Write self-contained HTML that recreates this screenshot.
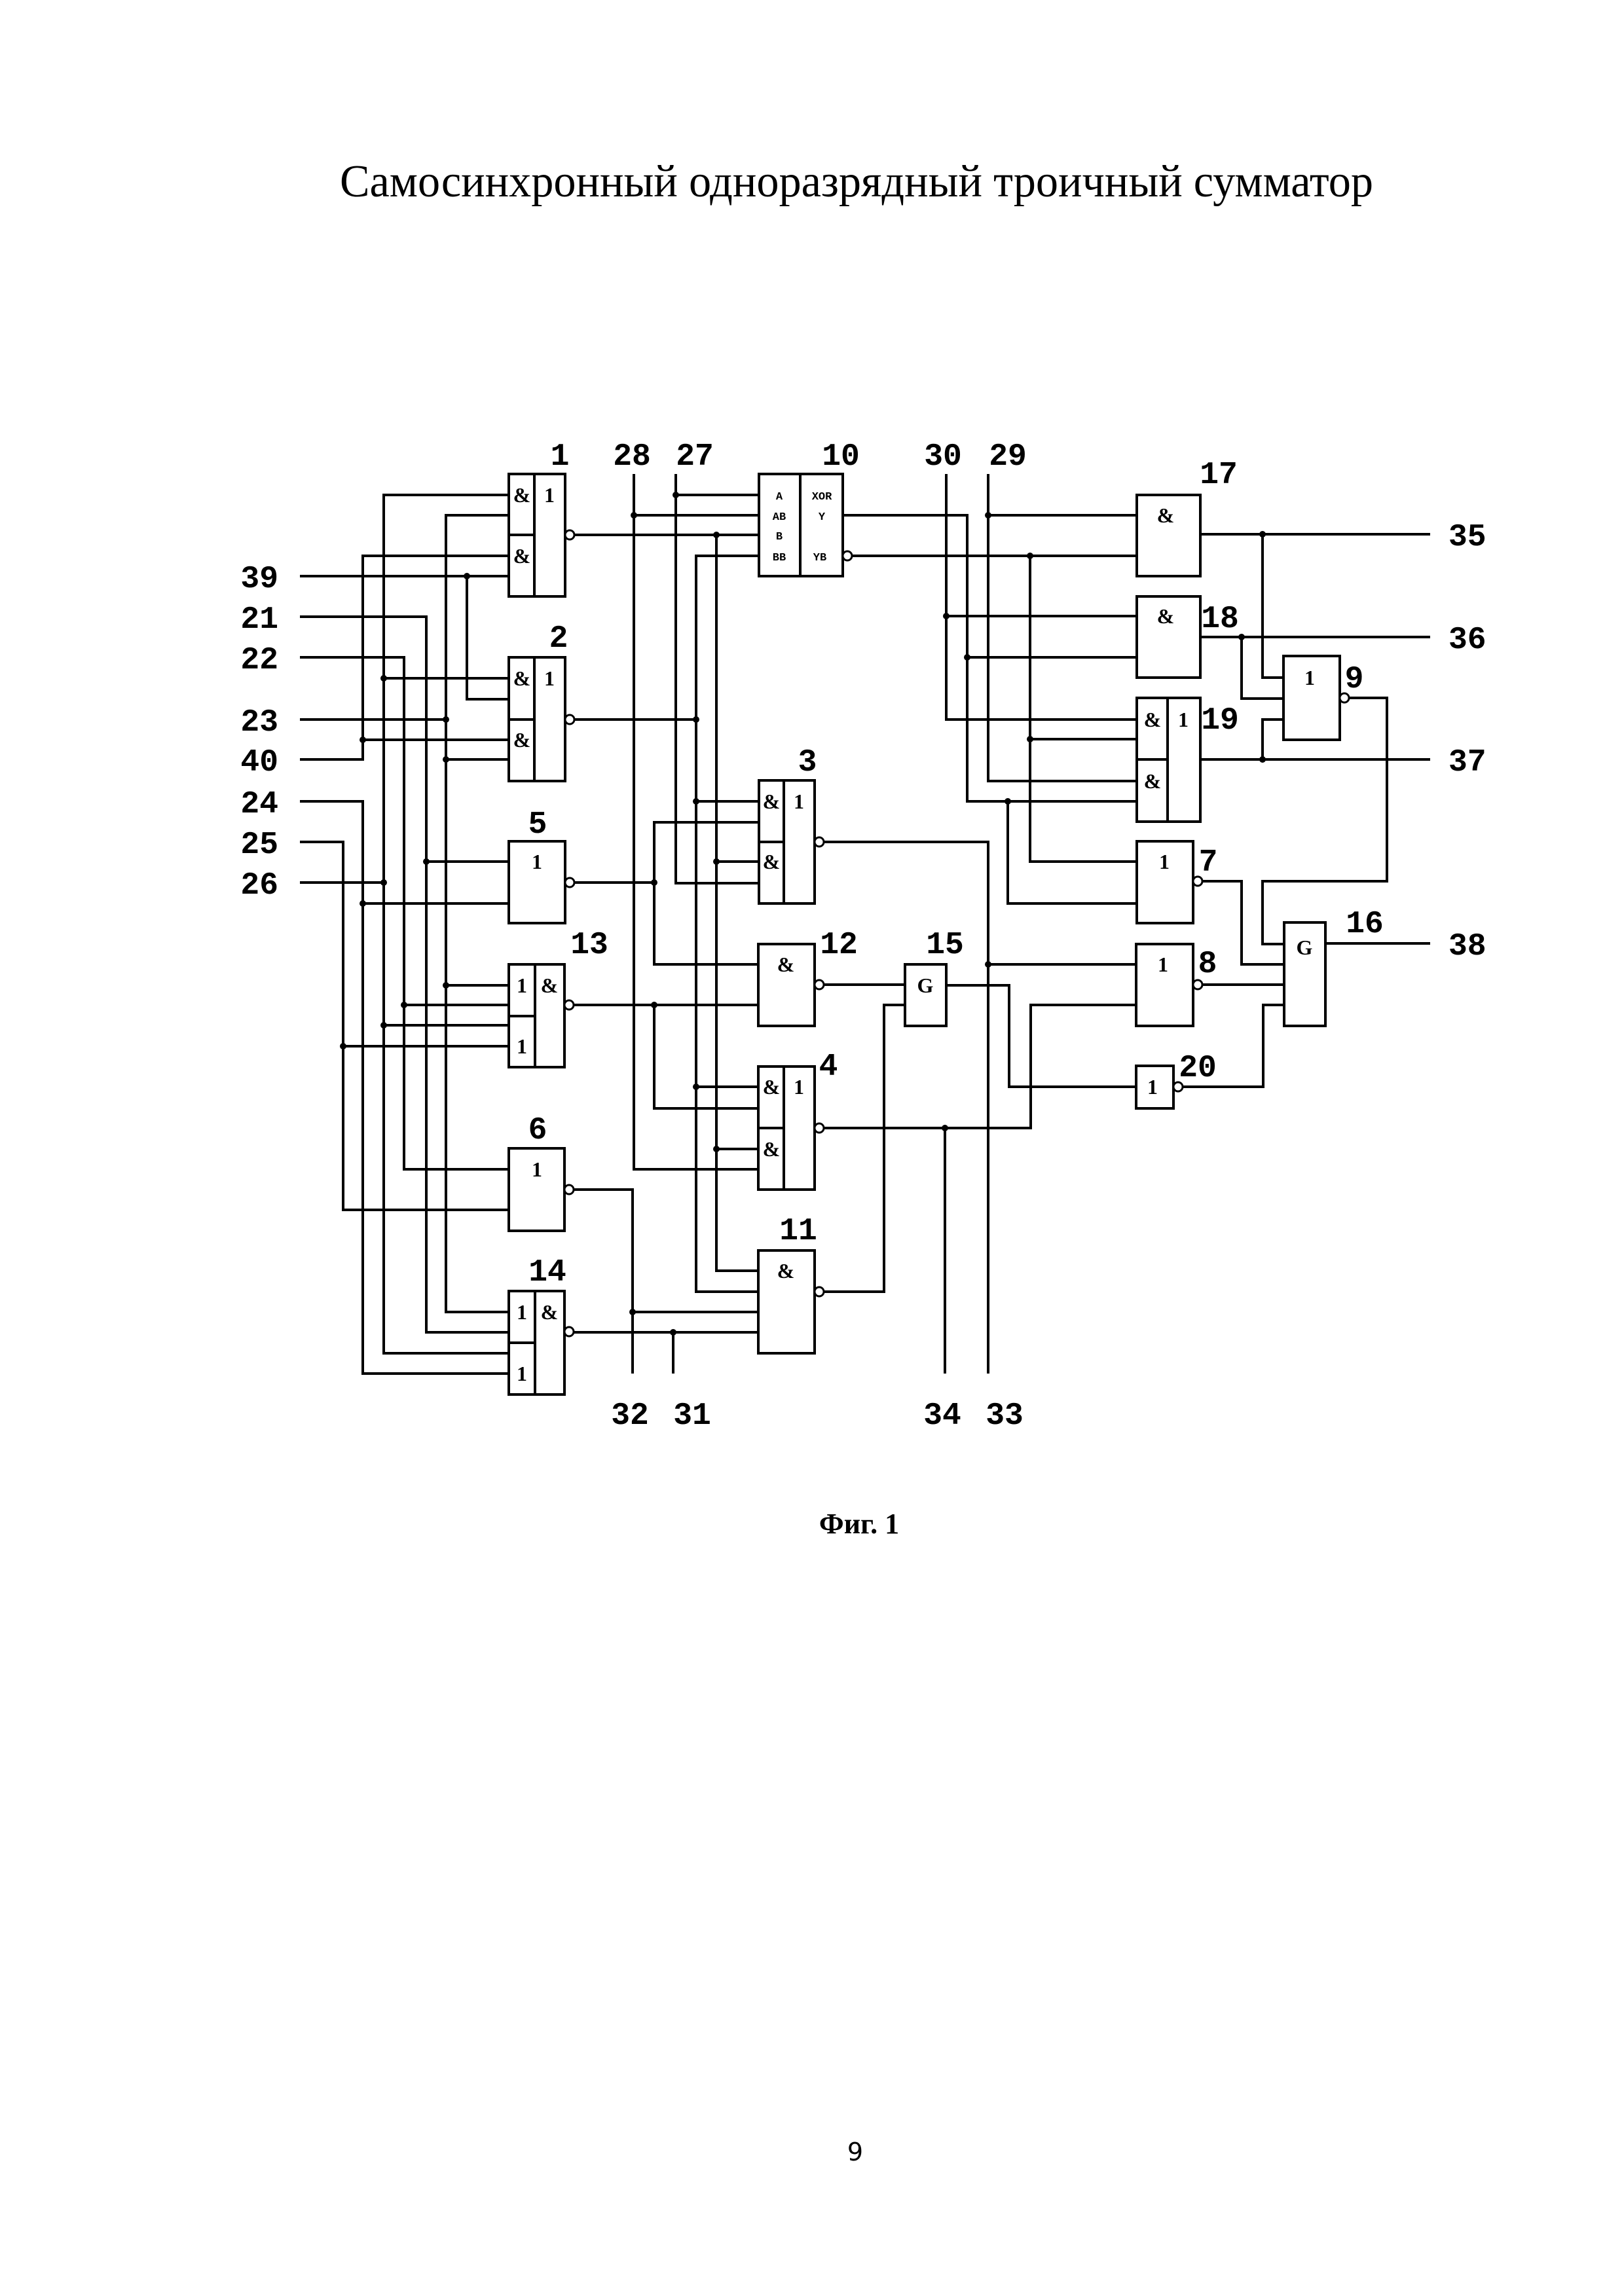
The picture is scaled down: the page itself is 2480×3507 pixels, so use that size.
<!DOCTYPE html>
<html><head><meta charset="utf-8"><style>
html,body{margin:0;padding:0;background:#fff}
svg{display:block}
.w{fill:none;stroke:#000;stroke-width:4;stroke-linejoin:miter}
.b{fill:#fff;stroke:#000;stroke-width:4}
.l{font-family:"Liberation Mono",monospace;font-weight:bold;font-size:48px}
.g{font-family:"Liberation Serif",serif;font-weight:bold;font-size:32px}
.s{font-family:"Liberation Mono",monospace;font-weight:bold;font-size:17px}
</style></head><body>
<svg width="2480" height="3507" viewBox="0 0 2480 3507" xmlns="http://www.w3.org/2000/svg">
<text x="1308" y="300" text-anchor="middle" font-family="Liberation Serif, serif" font-size="70" textLength="1578" lengthAdjust="spacingAndGlyphs">Самосинхронный одноразрядный троичный сумматор</text>

<g class="w">
<polyline points="458,880 777,880"/>
<polyline points="713,880 713,1068 777,1068"/>
<polyline points="458,942 651,942 651,2035 777,2035"/>
<polyline points="651,1316 777,1316"/>
<polyline points="458,1004 617,1004 617,1786 777,1786"/>
<polyline points="617,1535 777,1535"/>
<polyline points="458,1099 681,1099"/>
<polyline points="777,787 681,787 681,2004 777,2004"/>
<polyline points="681,1160 777,1160"/>
<polyline points="681,1505 777,1505"/>
<polyline points="458,1160 554,1160 554,849 777,849"/>
<polyline points="554,1130 777,1130"/>
<polyline points="458,1224 554,1224 554,2098 777,2098"/>
<polyline points="554,1380 777,1380"/>
<polyline points="458,1286 524,1286 524,1848 777,1848"/>
<polyline points="524,1598 777,1598"/>
<polyline points="458,1348 586,1348"/>
<polyline points="777,756 586,756 586,2067 777,2067"/>
<polyline points="586,1036 777,1036"/>
<polyline points="586,1566 777,1566"/>

<polyline points="877,817 1159,817"/>
<polyline points="1094,817 1094,1941 1158,1941"/>
<polyline points="1094,1316 1159,1316"/>
<polyline points="1094,1755 1158,1755"/>
<polyline points="877,1099 1063,1099"/>
<polyline points="1159,849 1063,849 1063,1973 1158,1973"/>
<polyline points="1063,1224 1159,1224"/>
<polyline points="1063,1660 1158,1660"/>
<polyline points="877,1348 999,1348"/>
<polyline points="1159,1256 999,1256 999,1473 1158,1473"/>
<polyline points="876,1535 1158,1535"/>
<polyline points="999,1535 999,1693 1158,1693"/>
<polyline points="876,1817 966,1817 966,2098"/>
<polyline points="966,2004 1158,2004"/>
<polyline points="876,2035 1158,2035"/>
<polyline points="1028,2035 1028,2098"/>
<polyline points="968,724 968,1786 1158,1786"/>
<polyline points="968,787 1159,787"/>
<polyline points="1032,724 1032,1349 1159,1349"/>
<polyline points="1032,756 1159,756"/>

<polyline points="1258,1286 1509,1286 1509,2098"/>
<polyline points="1509,1473 1735,1473"/>
<polyline points="1258,1504 1382,1504"/>
<polyline points="1258,1973 1350,1973 1350,1535 1382,1535"/>
<polyline points="1258,1723 1574,1723 1574,1535 1735,1535"/>
<polyline points="1443,1723 1443,2098"/>
<polyline points="1445,1505 1541,1505 1541,1660 1735,1660"/>
<polyline points="1836,1504 1961,1504"/>
<polyline points="1806,1660 1929,1660 1929,1535 1961,1535"/>
<polyline points="1836,1346 1896,1346 1896,1473 1961,1473"/>
<polyline points="2060,1066 2118,1066 2118,1346 1928,1346 1928,1442 1961,1442"/>
<polyline points="2024,1441 2184,1441"/>

<polyline points="1287,787 1477,787 1477,1224 1736,1224"/>
<polyline points="1477,1004 1736,1004"/>
<polyline points="1539,1224 1539,1380 1736,1380"/>
<polyline points="1301,849 1736,849"/>
<polyline points="1573,849 1573,1316 1736,1316"/>
<polyline points="1573,1129 1736,1129"/>
<polyline points="1509,724 1509,1193 1736,1193"/>
<polyline points="1509,787 1736,787"/>
<polyline points="1445,724 1445,1099 1736,1099"/>
<polyline points="1445,941 1736,941"/>
<polyline points="1833,816 2184,816"/>
<polyline points="1928,816 1928,1035 1960,1035"/>
<polyline points="1833,973 2184,973"/>
<polyline points="1896,973 1896,1067 1960,1067"/>
<polyline points="1833,1160 2184,1160"/>
<polyline points="1928,1160 1928,1099 1960,1099"/>
</g>

<g fill="#000">
<circle cx="713" cy="880" r="5"/><circle cx="651" cy="1316" r="5"/><circle cx="617" cy="1535" r="5"/>
<circle cx="681" cy="1099" r="5"/><circle cx="681" cy="1160" r="5"/><circle cx="681" cy="1505" r="5"/>
<circle cx="554" cy="1130" r="5"/><circle cx="554" cy="1380" r="5"/><circle cx="524" cy="1598" r="5"/>
<circle cx="586" cy="1348" r="5"/><circle cx="586" cy="1036" r="5"/><circle cx="586" cy="1566" r="5"/>
<circle cx="1094" cy="817" r="5"/><circle cx="1094" cy="1316" r="5"/><circle cx="1094" cy="1755" r="5"/>
<circle cx="1063" cy="1099" r="5"/><circle cx="1063" cy="1224" r="5"/><circle cx="1063" cy="1660" r="5"/>
<circle cx="999" cy="1348" r="5"/><circle cx="999" cy="1535" r="5"/><circle cx="966" cy="2004" r="5"/>
<circle cx="1028" cy="2035" r="5"/><circle cx="968" cy="787" r="5"/><circle cx="1032" cy="756" r="5"/>
<circle cx="1509" cy="1473" r="5"/><circle cx="1443" cy="1723" r="5"/>
<circle cx="1477" cy="1004" r="5"/><circle cx="1539" cy="1224" r="5"/><circle cx="1573" cy="849" r="5"/>
<circle cx="1573" cy="1129" r="5"/><circle cx="1509" cy="787" r="5"/><circle cx="1445" cy="941" r="5"/>
<circle cx="1928" cy="816" r="5"/><circle cx="1896" cy="973" r="5"/><circle cx="1928" cy="1160" r="5"/>
</g>

<g class="b">
<rect x="777" y="724" width="86" height="187"/>
<rect x="1159" y="724" width="128" height="156"/>
<rect x="777" y="1004" width="86" height="189"/>
<rect x="777" y="1285" width="86" height="125"/>
<rect x="1159" y="1192" width="85" height="188"/>
<rect x="777" y="1473" width="85" height="157"/>
<rect x="1158" y="1442" width="86" height="125"/>
<rect x="1382" y="1473" width="63" height="94"/>
<rect x="1158" y="1629" width="86" height="188"/>
<rect x="777" y="1754" width="85" height="126"/>
<rect x="1158" y="1910" width="86" height="157"/>
<rect x="777" y="1972" width="85" height="158"/>
<rect x="1736" y="756" width="97" height="124"/>
<rect x="1736" y="911" width="97" height="124"/>
<rect x="1736" y="1066" width="97" height="189"/>
<rect x="1960" y="1002" width="86" height="128"/>
<rect x="1736" y="1285" width="86" height="125"/>
<rect x="1735" y="1442" width="87" height="125"/>
<rect x="1735" y="1628" width="57" height="65"/>
<rect x="1961" y="1409" width="63" height="158"/>
</g>
<g class="w">
<line x1="816" y1="724" x2="816" y2="911"/><line x1="777" y1="817" x2="816" y2="817"/>
<line x1="1222" y1="724" x2="1222" y2="880"/>
<line x1="816" y1="1004" x2="816" y2="1193"/><line x1="777" y1="1099" x2="816" y2="1099"/>
<line x1="1197" y1="1192" x2="1197" y2="1380"/><line x1="1159" y1="1286" x2="1197" y2="1286"/>
<line x1="817" y1="1473" x2="817" y2="1630"/><line x1="777" y1="1552" x2="817" y2="1552"/>
<line x1="1197" y1="1629" x2="1197" y2="1817"/><line x1="1158" y1="1723" x2="1197" y2="1723"/>
<line x1="817" y1="1972" x2="817" y2="2130"/><line x1="777" y1="2051" x2="817" y2="2051"/>
<line x1="1783" y1="1066" x2="1783" y2="1255"/><line x1="1736" y1="1160" x2="1783" y2="1160"/>
</g>
<g fill="#fff" stroke="#000" stroke-width="3">
<circle cx="870" cy="817" r="7"/><circle cx="1294" cy="849" r="7"/><circle cx="870" cy="1099" r="7"/>
<circle cx="870" cy="1348" r="7"/><circle cx="1251" cy="1286" r="7"/><circle cx="869" cy="1535" r="7"/>
<circle cx="1251" cy="1504" r="7"/><circle cx="1251" cy="1723" r="7"/><circle cx="869" cy="1817" r="7"/>
<circle cx="1251" cy="1973" r="7"/><circle cx="869" cy="2034" r="7"/><circle cx="2053" cy="1066" r="7"/>
<circle cx="1829" cy="1346" r="7"/><circle cx="1829" cy="1504" r="7"/><circle cx="1799" cy="1660" r="7"/>
</g>

<g class="g" text-anchor="middle">
<text x="797" y="767">&amp;</text><text x="839" y="767">1</text><text x="797" y="860">&amp;</text>
<text x="797" y="1047">&amp;</text><text x="839" y="1047">1</text><text x="797" y="1141">&amp;</text>
<text x="820" y="1327">1</text>
<text x="1178" y="1235">&amp;</text><text x="1220" y="1235">1</text><text x="1178" y="1327">&amp;</text>
<text x="797" y="1516">1</text><text x="839" y="1516">&amp;</text><text x="797" y="1609">1</text>
<text x="1200" y="1484">&amp;</text>
<text x="1413" y="1516">G</text>
<text x="1178" y="1671">&amp;</text><text x="1220" y="1671">1</text><text x="1178" y="1766">&amp;</text>
<text x="820" y="1797">1</text>
<text x="1200" y="1952">&amp;</text>
<text x="797" y="2015">1</text><text x="839" y="2015">&amp;</text><text x="797" y="2109">1</text>
<text x="1780" y="798">&amp;</text><text x="1780" y="952">&amp;</text>
<text x="1760" y="1110">&amp;</text><text x="1807" y="1110">1</text><text x="1760" y="1204">&amp;</text>
<text x="2000" y="1046">1</text><text x="1778" y="1327">1</text><text x="1776" y="1484">1</text>
<text x="1760" y="1671">1</text><text x="1992" y="1458">G</text>
</g>
<g class="s" text-anchor="middle">
<text x="1190" y="763">A</text><text x="1190" y="794">AB</text><text x="1190" y="824">B</text><text x="1190" y="856">BB</text>
<text x="1255" y="763">XOR</text><text x="1255" y="794">Y</text><text x="1252" y="856">YB</text>
</g>

<g class="l" text-anchor="end">
<text x="425" y="897">39</text><text x="425" y="959">21</text><text x="425" y="1021">22</text>
<text x="425" y="1116">23</text><text x="425" y="1177">40</text><text x="425" y="1241">24</text>
<text x="425" y="1303">25</text><text x="425" y="1365">26</text>
</g>
<g class="l">
<text x="2212" y="833">35</text><text x="2212" y="990">36</text><text x="2212" y="1177">37</text><text x="2212" y="1458">38</text>
</g>
<g class="l" text-anchor="middle">
<text x="855" y="710">1</text><text x="965" y="710">28</text><text x="1061" y="710">27</text><text x="1284" y="710">10</text>
<text x="1440" y="710">30</text><text x="1539" y="710">29</text>
<text x="1861" y="738">17</text><text x="1863" y="958">18</text><text x="1863" y="1113">19</text>
<text x="2068" y="1050">9</text><text x="1845" y="1330">7</text><text x="1844" y="1485">8</text>
<text x="1829" y="1644">20</text><text x="2084" y="1424">16</text>
<text x="853" y="988">2</text><text x="821" y="1272">5</text><text x="1233" y="1177">3</text>
<text x="900" y="1456">13</text><text x="1281" y="1456">12</text><text x="1443" y="1456">15</text>
<text x="1265" y="1642">4</text><text x="821" y="1739">6</text><text x="1219" y="1893">11</text><text x="836" y="1956">14</text>
<text x="962" y="2175">32</text><text x="1057" y="2175">31</text><text x="1439" y="2175">34</text><text x="1534" y="2175">33</text>
</g>
<text x="1312" y="2342" text-anchor="middle" font-family="Liberation Serif, serif" font-weight="bold" font-size="44">Фиг. 1</text>
<text x="1306" y="3300" text-anchor="middle" font-family="DejaVu Sans, sans-serif" font-size="38">9</text>
</svg>
</body></html>
